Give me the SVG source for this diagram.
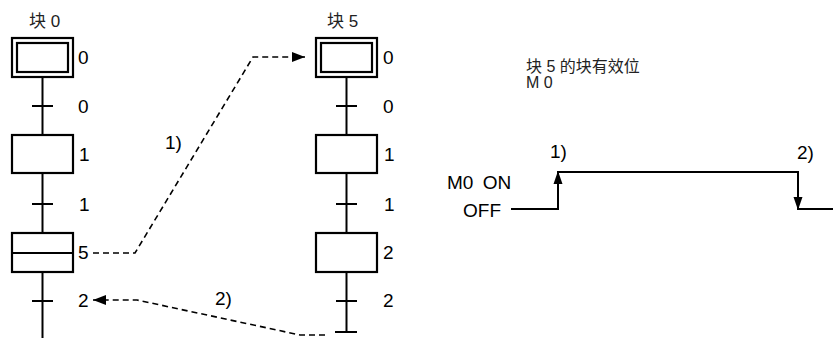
<svg xmlns="http://www.w3.org/2000/svg" width="833" height="338" viewBox="0 0 833 338">
<style>
.box{fill:#fff;stroke:#000;stroke-width:2.2}
.ln{fill:none;stroke:#000;stroke-width:2}
.dash{fill:none;stroke:#000;stroke-width:1.6;stroke-dasharray:6 4}
.t{font-family:"Liberation Sans",Arial,sans-serif;font-size:19px;fill:#000}
.c{font-family:"Liberation Sans","Noto Sans CJK SC",sans-serif;font-size:17px;fill:#222}
.c2{font-family:"Liberation Sans","Noto Sans CJK SC",sans-serif;font-size:16px;fill:#222}
.hd{fill:#000}
</style>
<defs>
<marker id="ah" viewBox="0 0 13 10" refX="13" refY="5" markerWidth="13" markerHeight="10" markerUnits="userSpaceOnUse" orient="auto">
<path d="M0,0 L13,5 L0,10 Z" fill="#000"/>
</marker>
</defs>
<g id="connectors">
<line class="ln" x1="42.5" y1="77" x2="42.5" y2="338"/>
<line class="ln" x1="346.5" y1="77" x2="346.5" y2="332"/>
<polyline class="dash" points="93,253 135,253 253,57 305,57" marker-end="url(#ah)"/>
<polyline class="dash" points="325,335 300,335 137,300 93,300" marker-end="url(#ah)"/>
</g>
<g id="lbl-block0"><text class="c" x="29" y="27">块 0</text></g>
<g id="L-step0">
<rect class="box" x="12" y="38" width="61" height="39"/>
<rect class="box" x="17" y="43" width="51" height="29"/>
<text class="t" x="78" y="64">0</text>
</g>
<g id="L-trans0"><line class="ln" x1="32" y1="106" x2="53" y2="106"/><text class="t" x="78" y="113">0</text></g>
<g id="L-step1"><rect class="box" x="12" y="135" width="61" height="38"/><text class="t" x="79" y="161">1</text></g>
<g id="L-trans1"><line class="ln" x1="32" y1="204" x2="53" y2="204"/><text class="t" x="79" y="211">1</text></g>
<g id="L-step5">
<rect class="box" x="12" y="233" width="61" height="39"/>
<line class="ln" x1="12" y1="253" x2="73" y2="253"/>
<text class="t" x="78" y="259">5</text>
</g>
<g id="L-trans2"><line class="ln" x1="32" y1="301" x2="53" y2="301"/><text class="t" x="78" y="307">2</text></g>
<g id="lbl-1"><text class="t" x="165" y="149">1)</text></g>
<g id="lbl-2"><text class="t" x="215" y="305">2)</text></g>
<g id="lbl-block5"><text class="c" x="327" y="27">块 5</text></g>
<g id="R-step0">
<rect class="box" x="316" y="38" width="61" height="39"/>
<rect class="box" x="321" y="43" width="51" height="29"/>
<text class="t" x="383" y="64">0</text>
</g>
<g id="R-trans0"><line class="ln" x1="336" y1="106" x2="357" y2="106"/><text class="t" x="383" y="113">0</text></g>
<g id="R-step1"><rect class="box" x="316" y="135" width="61" height="38"/><text class="t" x="384" y="161">1</text></g>
<g id="R-trans1"><line class="ln" x1="336" y1="204" x2="357" y2="204"/><text class="t" x="384" y="211">1</text></g>
<g id="R-step2"><rect class="box" x="316" y="233" width="61" height="39"/><text class="t" x="383" y="259">2</text></g>
<g id="R-trans2"><line class="ln" x1="336" y1="301" x2="357" y2="301"/><text class="t" x="383" y="307">2</text></g>
<g id="R-end"><line class="ln" x1="335" y1="332" x2="357" y2="332"/></g>
<g id="timing">
<text class="c2" x="526" y="72">块 5 的块有效位</text>
<text class="c2" x="526" y="88">M 0</text>
<text class="t" x="447" y="189" word-spacing="4">M0 ON</text>
<text class="t" x="463" y="217">OFF</text>
<polyline class="ln" points="511,209 558,209 558,172 798,172 798,209 833,209"/>
<polygon class="hd" points="553.5,184 558,171 562.5,184"/>
<polygon class="hd" points="793.5,197 798,210 802.5,197"/>
<text class="t" x="550" y="158">1)</text>
<text class="t" x="797" y="159">2)</text>
</g>
</svg>
